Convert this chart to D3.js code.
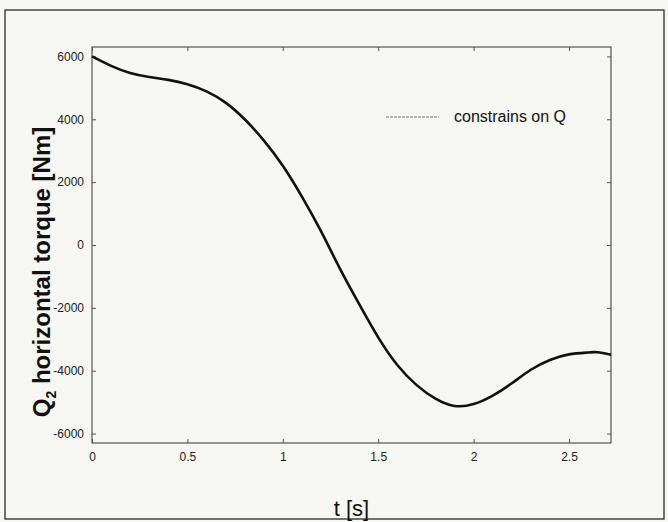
<!DOCTYPE html>
<html><head><meta charset="utf-8">
<script src="https://cdn.jsdelivr.net/npm/d3@7/dist/d3.min.js"></script>
<style>html,body{margin:0;padding:0;background:#f6f6f2;}svg{display:block;}</style>
</head><body>
<script>
// Data
const tValues = [0, 0.1, 0.2, 0.3, 0.4, 0.5, 0.6, 0.7, 0.8, 0.9, 1.0, 1.1, 1.2, 1.3, 1.4, 1.5, 1.6, 1.7, 1.8, 1.9, 2.0, 2.1, 2.2, 2.3, 2.4, 2.5, 2.6, 2.65, 2.72];
const torqueValues = [6000, 5700, 5475, 5345, 5255, 5118, 4890, 4530, 4000, 3330, 2520, 1540, 440, -760, -1880, -2940, -3820, -4450, -4890, -5120, -5060, -4790, -4400, -3970, -3660, -3480, -3420, -3414, -3490];
const xTicks = [0, 0.5, 1, 1.5, 2, 2.5];
const xTickLabels = ["0", "0.5", "1", "1.5", "2", "2.5"];
const yTicks = [-6000, -4000, -2000, 0, 2000, 4000, 6000];
const yTickLabels = ["-6000", "-4000", "-2000", "0", "2000", "4000", "6000"];
const legendLabel = "constrains on Q";
const xLabel = "t [s]";

const W = 668, H = 522;
const m = {left: 92, right: 611, top: 47, bottom: 443};

const svg = d3.select("body").append("svg").attr("width", W).attr("height", H);
svg.append("rect").attr("width", W).attr("height", H).attr("fill", "#f6f6f2");
// outer frame
svg.append("rect").attr("x", 5).attr("y", 10).attr("width", 659).attr("height", 509)
  .attr("fill", "none").attr("stroke", "#2a2a2a").attr("stroke-width", 1.3);

const x = d3.scaleLinear().domain([0, 2.72]).range([m.left, m.right]);
const y = d3.scaleLinear().domain([-6300, 6300]).range([m.bottom, m.top]);

// plot box
svg.append("rect").attr("x", m.left).attr("y", m.top).attr("width", m.right - m.left).attr("height", m.bottom - m.top)
  .attr("fill", "none").attr("stroke", "#333").attr("stroke-width", 1);

// axes (inward ticks)
const xAxisB = d3.axisBottom(x).tickValues(xTicks).tickSize(-4).tickPadding(9)
  .tickFormat((d, i) => xTickLabels[i]);
const gx = svg.append("g").attr("transform", `translate(0,${m.bottom})`).call(xAxisB);
const xAxisT = d3.axisTop(x).tickValues(xTicks).tickSize(-4).tickFormat("");
const gxt = svg.append("g").attr("transform", `translate(0,${m.top})`).call(xAxisT);
const yAxisL = d3.axisLeft(y).tickValues(yTicks).tickSize(-4).tickPadding(8)
  .tickFormat((d, i) => yTickLabels[i]);
const gy = svg.append("g").attr("transform", `translate(${m.left},0)`).call(yAxisL);
const yAxisR = d3.axisRight(y).tickValues(yTicks).tickSize(-4).tickFormat("");
const gyr = svg.append("g").attr("transform", `translate(${m.right},0)`).call(yAxisR);
[gx, gxt, gy, gyr].forEach(g => {
  g.select(".domain").remove();
  g.selectAll(".tick line").attr("stroke", "#555").attr("stroke-width", 1);
  g.selectAll("text").attr("font-family", "Arial, 'Liberation Sans', sans-serif")
    .attr("font-size", 12).attr("fill", "#222");
});

// curve
const pts = tValues.map((t, i) => [t, torqueValues[i]]);
svg.append("path").datum(pts)
  .attr("d", d3.line().x(d => x(d[0])).y(d => y(d[1])).curve(d3.curveNatural))
  .attr("fill", "none").attr("stroke", "#111").attr("stroke-width", 2.6);

// legend
svg.append("line").attr("x1", 386).attr("x2", 439).attr("y1", 117).attr("y2", 117)
  .attr("stroke", "#777").attr("stroke-width", 1).attr("stroke-dasharray", "3,1");
svg.append("text").attr("x", 454).attr("y", 121.5).text(legendLabel)
  .attr("font-family", "Arial, 'Liberation Sans', sans-serif").attr("font-size", 16).attr("fill", "#111");

// x label
svg.append("text").attr("x", (m.left + m.right) / 2).attr("y", 516).attr("text-anchor", "middle")
  .attr("font-family", "Arial, 'Liberation Sans', sans-serif").attr("font-size", 22).attr("fill", "#111")
  .text(xLabel);

// y label
const yl = svg.append("text").attr("transform", `translate(50,272) rotate(-90)`).attr("text-anchor", "middle")
  .attr("font-family", "Arial, 'Liberation Sans', sans-serif").attr("font-size", 24).attr("font-weight", "bold").attr("fill", "#111");
yl.append("tspan").text("Q");
yl.append("tspan").text("2").attr("font-size", 14).attr("dy", 6);
yl.append("tspan").text(" horizontal torque [Nm]").attr("dy", -6);
</script>
</body></html>
